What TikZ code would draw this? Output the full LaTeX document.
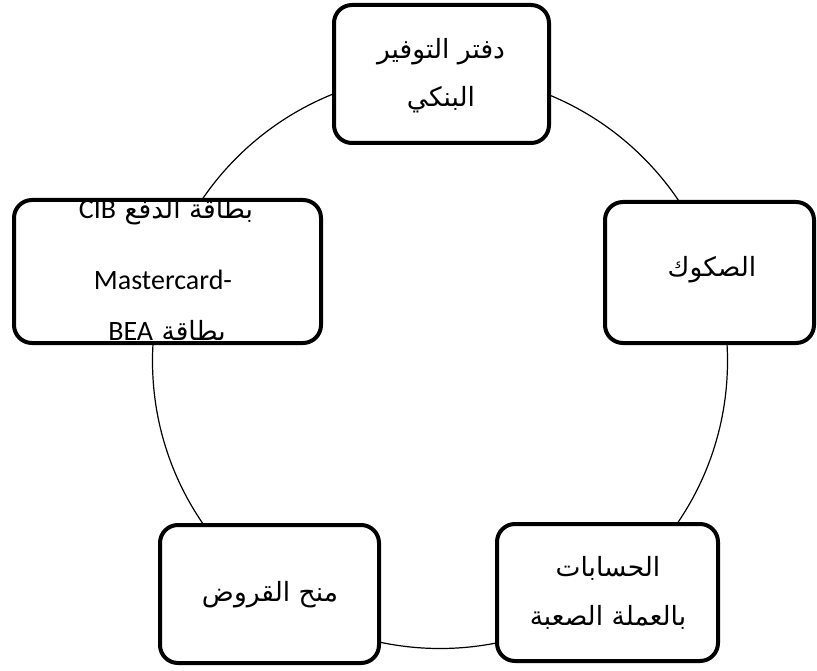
\documentclass[tikz,border=0pt]{standalone}
\usepackage{fontspec}
\setmainfont{Carlito}
\newfontfamily\arabicfont[Script=Arabic]{DejaVu Sans}
\newfontfamily\latinfont{Carlito}
\TeXXeTstate=1
\newcommand\latinpart[1]{\beginL{\latinfont\fontsize{28}{32}\selectfont #1}\endL}
\begin{document}
\begin{tikzpicture}[x=1pt,y=-1pt,
  card/.style={draw=black, line width=4pt, rounded corners=18pt, fill=white,
    inner sep=0pt, minimum width=#1},
  ar/.style={font=\arabicfont\fontsize{26.5}{30}\selectfont, inner sep=0pt},
  lat/.style={font=\latinfont\fontsize{28}{32}\selectfont, inner sep=0pt}]
\useasboundingbox (0,0) rectangle (817,671);
% ring linking the five services
\draw[line width=1.2pt] (440,361) circle[radius=287.5pt];
% service cards
\node[card=215pt, minimum height=138pt] (savings) at (441.5,74) {};
\node[card=209pt, minimum height=141pt] (sukuk) at (709.5,272.5) {};
\node[card=307pt, minimum height=143pt] (cards) at (167.5,271.5) {};
\node[card=219pt, minimum height=138pt] (loans) at (269.5,594) {};
\node[card=221pt, minimum height=137pt] (forex) at (607.5,592.5) {};
% labels
\node[ar] (savings1) at (441,52) {\beginR دفتر التوفير\endR};
\node[ar] (savings2) at (441,100) {\beginR البنكي\endR};
\node[ar] (sukukt) at (712,270) {\beginR الصكوك\endR};
\node[ar] (loanst) at (270,595) {\beginR منح القروض\endR};
\node[ar] (forex1) at (608,568) {\beginR الحسابات\endR};
\node[ar] (forex2) at (608,617) {\beginR بالعملة الصعبة\endR};
% card labels overflow the box and are cut at its border
\begin{scope}
  \clip[rounded corners=16pt] (16,202) rectangle (319,341);
  \node[ar] (cards1) at (166,212) {\beginR بطاقة الدفع \latinpart{CIB}\endR};
  \node[lat] (cards2) at (163,280) {Mastercard-};
  \node[ar] (cards3) at (167,332) {\beginR بطاقة \latinpart{BEA}\endR};
\end{scope}
\end{tikzpicture}
\end{document}
